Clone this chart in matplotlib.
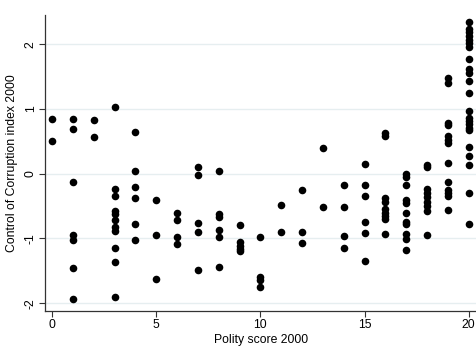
import numpy as np
import matplotlib
matplotlib.use('Agg')
import matplotlib.pyplot as plt

plt.rcParams['font.family'] = ['Liberation Sans', 'DejaVu Sans']

# polity score -> corruption index values
polity_0 = [0.85, 0.50]
polity_1 = [0.84, 0.69, -0.13, -0.95, -1.03, -1.45, -1.93]
polity_2 = [0.83, 0.56]
polity_3 = [1.03, -0.24, -0.35, -0.58, -0.62, -0.72, -0.83, -0.89, -1.14, -1.36, -1.91]
polity_4 = [0.65, 0.04, -0.20, -0.38, -0.77, -1.02]
polity_5 = [-0.40, -0.94, -1.63]
polity_6 = [-0.60, -0.72, -0.97, -1.09]
polity_7 = [0.11, -0.02, -0.76, -0.90, -1.49]
polity_8 = [0.04, -0.63, -0.67, -0.87, -0.98, -1.44]
polity_9 = [-0.79, -1.06, -1.12, -1.16, -1.20]
polity_10 = [-0.98, -1.59, -1.64, -1.75]
polity_11 = [-0.48, -0.90]
polity_12 = [-0.25, -0.90, -1.07]
polity_13 = [0.39, -0.51]
polity_14 = [-0.17, -0.52, -0.96, -1.14]
polity_15 = [0.15, -0.18, -0.34, -0.74, -0.91, -1.35]
polity_16 = [0.63, 0.58, -0.38, -0.43, -0.55, -0.60, -0.65, -0.70, -0.93]
polity_17 = [0.00, -0.05, -0.17, -0.41, -0.45, -0.60, -0.74, -0.78, -0.93, -1.01, -1.18]
polity_18 = [0.14, 0.10, -0.24, -0.30, -0.36, -0.43, -0.50, -0.57, -0.95]
polity_19 = [1.48, 1.40, 0.79, 0.75, 0.58, 0.52, 0.47, 0.16, -0.13, -0.25, -0.30, -0.35, -0.56]
polity_20 = [2.34, 2.24, 2.18, 2.13, 2.06, 2.01, 1.95, 1.77, 1.62, 1.55, 1.43, 1.24,
             0.97, 0.86, 0.81, 0.76, 0.71, 0.67, 0.41, 0.27, 0.14, -0.30, -0.78]

columns = [polity_0, polity_1, polity_2, polity_3, polity_4, polity_5, polity_6,
           polity_7, polity_8, polity_9, polity_10, polity_11, polity_12, polity_13,
           polity_14, polity_15, polity_16, polity_17, polity_18, polity_19, polity_20]

x = []
y = []
for score, vals in enumerate(columns):
    x += [score] * len(vals)
    y += vals

fig = plt.figure(figsize=(4.77, 3.47), dpi=100)
ax = fig.add_axes([45/477, 1 - 311/347, 432/477, (311 - 15)/347])

ax.scatter(x, y, s=30, color='black', zorder=3, linewidths=0)

ax.set_xlim(-0.34, 20.4)
ax.set_ylim(-2.12, 2.45)
ax.set_xticks([0, 5, 10, 15, 20])
ax.set_yticks([-2, -1, 0, 1, 2])
ax.set_yticklabels(['-2', '-1', '0', '1', '2'], rotation=90, va='center')
ax.grid(axis='y', color='#e6eef0', linewidth=1, zorder=0)

ax.spines['top'].set_visible(False)
ax.spines['right'].set_visible(False)
for s in ['left', 'bottom']:
    ax.spines[s].set_color('#333333')
    ax.spines[s].set_linewidth(0.9)
ax.tick_params(labelsize=8.8, length=4, width=0.8, color='#333333', pad=2)

ax.set_xlabel('Polity score 2000', fontsize=8.8, labelpad=2)
ax.set_ylabel('Control of Corruption index 2000', fontsize=8.8, labelpad=5)

fig.savefig('out.png', dpi=100)
